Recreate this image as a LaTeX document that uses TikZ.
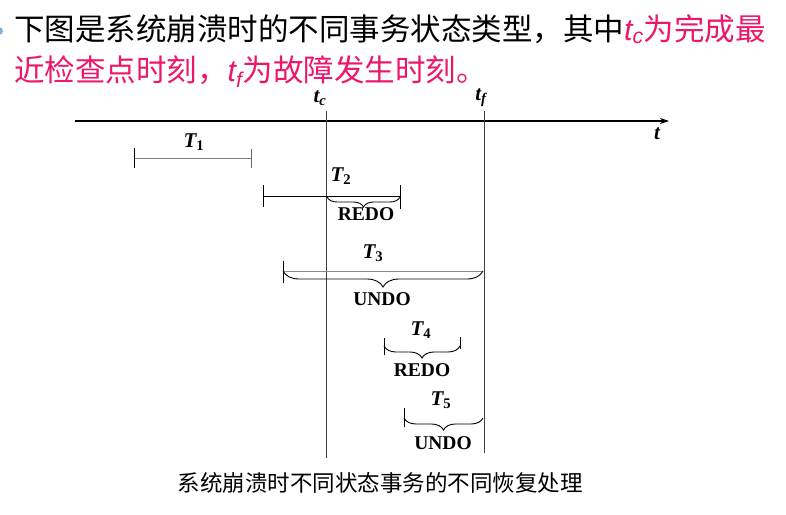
\documentclass[tikz,border=0pt]{standalone}
\usepackage{fontspec}
\setmainfont{Liberation Serif}
\newfontfamily\cjk{Noto Sans CJK SC}
\newfontfamily\hsans{Liberation Sans}
\usetikzlibrary{arrows.meta,decorations.pathreplacing}
\definecolor{pinkc}{RGB}{236,22,106}
\definecolor{bulletblue}{RGB}{130,175,220}
\newcommand\tvar[1]{{\hsans\itshape t}\textsubscript{\hsans\itshape #1}}
\begin{document}
\begin{tikzpicture}[x=1pt,y=-1pt,
  tlab/.style={font=\fontsize{21}{24}\selectfont\bfseries\itshape, inner sep=0pt},
  oplab/.style={font=\fontsize{19.5}{22}\selectfont\bfseries, inner sep=0pt},
  head/.style={anchor=base west, inner sep=0pt, font=\cjk\fontsize{30.5}{36}\selectfont},
  barline/.style={line width=1pt},
  tickline/.style={line width=1pt},
  vline/.style={line width=1pt, draw=black!75},
  bracestyle/.style={decorate, decoration={brace, mirror, amplitude=#1}, line width=0.9pt},
]
\useasboundingbox (0,0) rectangle (786,514);
% bullet fragment
\fill[bulletblue] (-1,31) circle (4);
% header
\node[head] (h1) at (14,40) {下图是系统崩溃时的不同事务状态类型，其中\textcolor{pinkc}{\tvar{c}为完成最}};
\node[head, text=pinkc] (h2) at (14,81) {近检查点时刻，\tvar{f}为故障发生时刻。};

% axis
\coordinate (a0) at (75,121);
\coordinate (a1) at (669,121);
\draw[line width=1.2pt, -{Stealth[length=9pt,width=6pt]}] (a0) -- (a1);
\node[tlab] (tl) at (657,134) {t};
\node[tlab] (tcl) at (320,98) {t\textsubscript{c}};
\node[tlab] (tfl) at (481,98) {t\textsubscript{f}};

% vertical lines
\coordinate (c0) at (326,111);
\coordinate (c1) at (326,458);
\coordinate (f0) at (484,111);
\coordinate (f1) at (484,453);
\draw[vline] (c0) -- (c1);
\draw[vline] (f0) -- (f1);

% T1
\coordinate (t1a) at (134,158);
\coordinate (t1b) at (251,158);
\coordinate (t1at) at (134,148);
\coordinate (t1ab) at (134,168);
\coordinate (t1bt) at (251,149);
\coordinate (t1bb) at (251,168);
\draw[barline, black!50] (t1a) -- (t1b);
\draw[tickline] (t1at) -- (t1ab);
\draw[tickline, black!60] (t1bt) -- (t1bb);
\node[tlab] (T1) at (194,142) {T\textsubscript{\upshape 1}};

% T2
\coordinate (t2a) at (263,196);
\coordinate (t2b) at (400,196);
\coordinate (t2at) at (263,185);
\coordinate (t2ab) at (263,207);
\coordinate (t2bt) at (400,185);
\coordinate (t2bb) at (400,209);
\coordinate (t2c) at (327,197);
\coordinate (t2d) at (400,197);
\draw[barline] (t2a) -- (t2b);
\draw[tickline] (t2at) -- (t2ab);
\draw[tickline] (t2bt) -- (t2bb);
\draw[bracestyle=10pt] (t2c) -- (t2d);
\node[tlab] (T2) at (341,176) {T\textsubscript{\upshape 2}};
\node[oplab] (R2) at (366,214) {REDO};

% T3
\coordinate (t3at) at (283,261);
\coordinate (t3ab) at (283,283);
\coordinate (t3a) at (283,271);
\coordinate (t3b) at (483,271);
\draw[tickline] (t3at) -- (t3ab);
\draw[barline, black!45] (t3a) -- (t3b);
\draw[bracestyle=16pt] (t3a) -- (t3b);
\node[tlab] (T3) at (373,253) {T\textsubscript{\upshape 3}};
\node[oplab] (U3) at (382,299) {UNDO};

% T4
\coordinate (t4at) at (384,338);
\coordinate (t4ab) at (384,355);
\coordinate (t4bt) at (460,337);
\coordinate (t4bb) at (460,349);
\coordinate (t4a) at (384,346);
\coordinate (t4b) at (460,346);
\draw[tickline] (t4at) -- (t4ab);
\draw[tickline] (t4bt) -- (t4bb);
\draw[bracestyle=12pt] (t4a) -- (t4b);
\node[tlab] (T4) at (421,330) {T\textsubscript{\upshape 4}};
\node[oplab] (R4) at (422,370) {REDO};

% T5
\coordinate (t5at) at (404,408);
\coordinate (t5ab) at (404,427);
\coordinate (t5a) at (404,418);
\coordinate (t5b) at (483,418);
\draw[tickline] (t5at) -- (t5ab);
\draw[bracestyle=12pt] (t5a) -- (t5b);
\node[tlab] (T5) at (441,400) {T\textsubscript{\upshape 5}};
\node[oplab] (U5) at (443,443) {UNDO};

% caption
\node[font=\cjk\fontsize{22.5}{26}\selectfont, inner sep=0pt] (cap) at (380,483) {系统崩溃时不同状态事务的不同恢复处理};
\end{tikzpicture}
\end{document}
